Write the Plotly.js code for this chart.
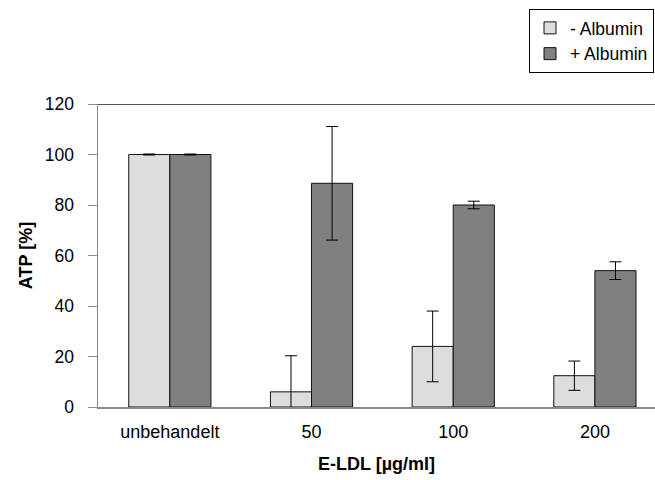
<!DOCTYPE html>
<html>
<head>
<meta charset="utf-8">
<script src="https://cdn.plot.ly/plotly-3.0.1.min.js"></script>
<style>html,body{margin:0;padding:0;background:#fff;}#chart{width:655px;height:480px;}</style>
</head>
<body>
<div id="chart"></div>
<script>
const categories = ["unbehandelt", "50", "100", "200"];
const minusValues = [100, 6, 24, 12.4];
const minusErrors = [0.2, 14.3, 14, 5.8];
const plusValues = [100, 88.6, 80, 54];
const plusErrors = [0.2, 22.5, 1.5, 3.5];
const seriesNames = ["- Albumin", "+ Albumin"];
const yTicks = [0, 20, 40, 60, 80, 100, 120];

const font = {family: "Liberation Sans, Arial, sans-serif", size: 18, color: "#000"};
const tickFont = {family: "Liberation Sans, Arial, sans-serif", size: 17.5, color: "#000"};

const traces = [
  {
    type: "bar", name: seriesNames[0], x: categories, y: minusValues,
    marker: {color: "#dddddd", line: {color: "#111", width: 1}},
    error_y: {type: "data", array: minusErrors, visible: true, color: "#000", thickness: 1, width: 6}
  },
  {
    type: "bar", name: seriesNames[1], x: categories, y: plusValues,
    marker: {color: "#808080", line: {color: "#111", width: 1}},
    error_y: {type: "data", array: plusErrors, visible: true, color: "#000", thickness: 1, width: 6}
  }
];

const layout = {
  width: 655, height: 480,
  margin: {l: 98, r: 0, t: 104, b: 73, autoexpand: false},
  paper_bgcolor: "#fff", plot_bgcolor: "#fff",
  font: font,
  barmode: "group", bargap: 0.42, bargroupgap: 0,
  showlegend: true,
  legend: {
    xref: "container", yref: "container",
    x: 529/655, y: 1 - 9/480, xanchor: "left", yanchor: "top",
    bordercolor: "#000", borderwidth: 1, bgcolor: "#fff",
    font: {family: "Liberation Sans, Arial, sans-serif", size: 17.5, color: "#000"},
    traceorder: "normal", itemwidth: 30
  },
  xaxis: {
    type: "category", range: [-0.507, 3.424],
    showline: true, linecolor: "#888", linewidth: 1.5,
    ticks: "", showgrid: false, zeroline: false,
    tickfont: font, ticklabelstandoff: 8,
    title: {text: "<b>E-LDL [µg/ml]</b>", font: font, standoff: 16}
  },
  yaxis: {
    range: [0, 120], tickvals: yTicks, ticktext: yTicks.map(String),
    showline: true, linecolor: "#888", linewidth: 1.5,
    ticks: "outside", ticklen: 9, tickcolor: "#888", tickwidth: 1,
    showgrid: false, zeroline: false,
    tickfont: tickFont, ticklabelstandoff: 10,
    title: {text: "<b>ATP [%]</b>", font: font, standoff: 7}
  },
  shapes: [
    {type: "line", xref: "paper", yref: "y", x0: 0, x1: 1, y0: 120, y1: 120,
     line: {color: "#555", width: 2}}
  ]
};

Plotly.newPlot("chart", traces, layout, {staticPlot: true, displayModeBar: false});
</script>
</body>
</html>
